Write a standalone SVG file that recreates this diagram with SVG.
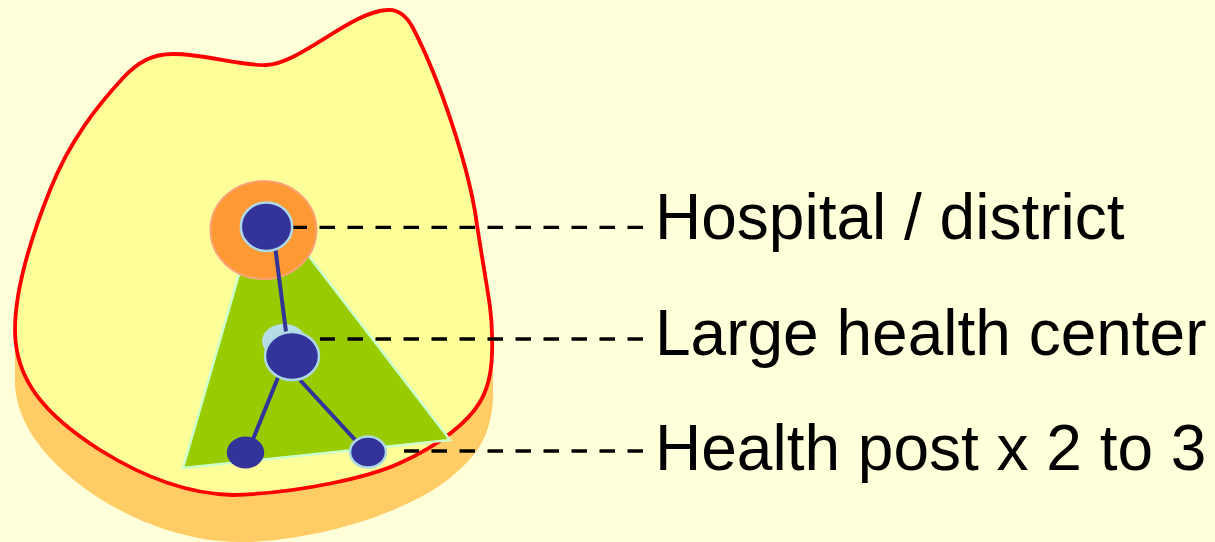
<svg xmlns="http://www.w3.org/2000/svg" width="1215" height="542" viewBox="0 0 1215 542">
<style>
.lbl{font-family:"Liberation Sans",Arial,sans-serif;font-size:64px;fill:#000}
.lead{stroke:#000;stroke-width:3.3;stroke-dasharray:15.5 12.5;fill:none}
.link{stroke:#333399;stroke-width:4;stroke-linecap:round;fill:none}
.node{fill:#333399;stroke:#add8e6;stroke-width:2.5}
</style>
<rect x="0" y="0" width="1215" height="542" fill="#ffffd9"/>
<g id="district-area">
<path d="M15,330 L15,385 C17,420 40,455 83,487 C120,515 180,542 240,542 L250,542 C330,538 410,510 450,478 C475,457 490,440 493,400 L493,335 Z" fill="#ffcc66"/>
<path d="M123,78 C138,62 152,54 173,54 C205,54 240,66 266,65 C300,64 350,12 387,10 C398,9 406,15 413,28 C440,80 470,170 477,225 C487,290 492,310 492,335 C493,365 490,385 480,402 C468,422 440,445 400,463 C370,477 300,493 233,495 C185,494 140,475 100,450 C45,415 15,380 15,330 C15,290 30,240 50,190 C70,140 98,105 123,78 Z" fill="#ffff99" stroke="#ff0000" stroke-width="3.8"/>
</g>
<g id="coverage-area">
<polygon points="183,468 450,440 262,195" fill="#99cc00" stroke="#ccffcc" stroke-width="2.5"/>
</g>
<g id="hospital-zone">
<ellipse cx="263.5" cy="230" rx="53" ry="49" fill="#ff9933" stroke="#f9a27a" stroke-width="2"/>
</g>
<g id="large-center-halo">
<ellipse cx="284" cy="341" rx="22" ry="17" fill="#b5dde5"/>
</g>
<g id="connectors">
<line class="link" x1="275.3" y1="248.3" x2="286" y2="331.7"/>
<line class="link" x1="278.3" y1="376.7" x2="252.7" y2="440"/>
<line class="link" x1="300" y1="380" x2="358.3" y2="443.3"/>
<line class="lead" x1="643" y1="227.3" x2="292" y2="227.3"/>
<line class="lead" x1="643" y1="339" x2="320" y2="339"/>
<line class="lead" x1="643" y1="451" x2="404" y2="451"/>
</g>
<g id="hospital">
<ellipse class="node" cx="266.5" cy="226.7" rx="25.7" ry="24.3"/>
</g>
<g id="large-health-center">
<ellipse class="node" cx="292" cy="356" rx="27" ry="24"/>
</g>
<g id="health-post-1">
<ellipse cx="245.5" cy="452.5" rx="18.7" ry="16" fill="#333399"/>
</g>
<g id="health-post-2">
<ellipse class="node" cx="368" cy="452" rx="18" ry="15.5"/>
</g>
<g id="labels">
<text class="lbl" x="655" y="238.5">Hospital / district</text>
<text class="lbl" x="655" y="355">Large health center</text>
<text class="lbl" x="655" y="470">Health post x 2 to 3</text>
</g>
</svg>
